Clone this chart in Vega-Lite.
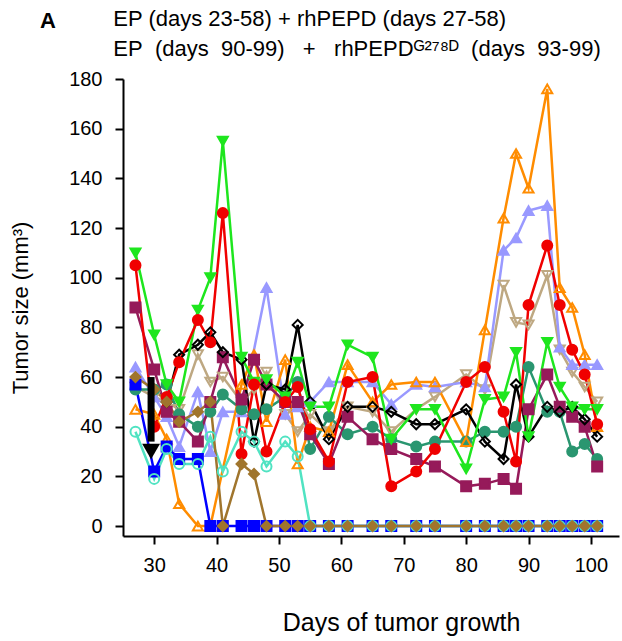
{
  "$schema": "https://vega.github.io/schema/vega-lite/v6.json",
  "width": 496,
  "height": 457,
  "autosize": {"type": "none"},
  "padding": {"left": 123, "top": 79, "right": 3, "bottom": 105},
  "background": "white",
  "config": {
    "font": "Liberation Sans",
    "view": {"stroke": null},
    "axis": {"domainColor": "black", "domainWidth": 2, "tickColor": "black", "tickWidth": 2, "tickSize": 8, "labelFontSize": 20, "labelColor": "black", "titleFontSize": 22, "titleFontWeight": "normal", "titleColor": "black", "grid": false, "labelFont": "Liberation Sans", "titleFont": "Liberation Sans"}
  },
  "title": {
    "text": "A",
    "subtitle": ["\u200b\u00a0\u00a0\u00a0\u00a0\u00a0\u00a0\u00a0\u00a0\u00a0\u00a0\u00a0\u00a0EP (days 23-58) + rhPEPD (days 27-58)", "\u200b\u00a0\u00a0\u00a0\u00a0\u00a0\u00a0\u00a0\u00a0\u00a0\u00a0\u00a0\u00a0EP\u00a0\u00a0(days\u00a0\u00a090-99)\u00a0\u00a0\u00a0+\u00a0\u00a0\u00a0rhPEPDᴳ²⁷⁸ᴰ\u00a0\u00a0(days\u00a0\u00a093-99)"],
    "anchor": "start", "frame": "group", "dx": -83, "offset": 6,
    "font": "Liberation Sans", "fontSize": 22, "fontWeight": "bold", "color": "black",
    "subtitleFont": "Liberation Sans", "subtitleFontSize": 22, "subtitleLineHeight": 30, "subtitlePadding": -24, "subtitleColor": "black"
  },
  "datasets": {
    "arrow": [{"d": 29.5, "top": 60, "base": 34, "tip": 30}],
    "pts": [
      {"s":"tan","d":27,"v":56},{"s":"tan","d":30,"v":52},{"s":"tan","d":32,"v":50},{"s":"tan","d":34,"v":47},{"s":"tan","d":37,"v":69},{"s":"tan","d":39,"v":58},{"s":"tan","d":41,"v":60},{"s":"tan","d":44,"v":50},{"s":"tan","d":46,"v":55},{"s":"tan","d":48,"v":62},{"s":"tan","d":51,"v":45},{"s":"tan","d":53,"v":38},{"s":"tan","d":55,"v":45},{"s":"tan","d":58,"v":38},{"s":"tan","d":61,"v":48},{"s":"tan","d":65,"v":46},{"s":"tan","d":68,"v":38},{"s":"tan","d":72,"v":47},{"s":"tan","d":75,"v":52},{"s":"tan","d":80,"v":61},{"s":"tan","d":83,"v":55},{"s":"tan","d":86,"v":97},{"s":"tan","d":88,"v":82},{"s":"tan","d":90,"v":81},{"s":"tan","d":93,"v":101},{"s":"tan","d":95,"v":71},{"s":"tan","d":97,"v":62},{"s":"tan","d":99,"v":56},{"s":"tan","d":101,"v":50},
      {"s":"lav","d":27,"v":64},{"s":"lav","d":30,"v":52},{"s":"lav","d":32,"v":44},{"s":"lav","d":34,"v":32},{"s":"lav","d":37,"v":54},{"s":"lav","d":39,"v":30},{"s":"lav","d":41,"v":46},{"s":"lav","d":44,"v":46},{"s":"lav","d":48,"v":96},{"s":"lav","d":51,"v":45},{"s":"lav","d":53,"v":48},{"s":"lav","d":55,"v":50},{"s":"lav","d":58,"v":58},{"s":"lav","d":61,"v":58},{"s":"lav","d":65,"v":58},{"s":"lav","d":68,"v":49},{"s":"lav","d":72,"v":57},{"s":"lav","d":75,"v":56},{"s":"lav","d":80,"v":58},{"s":"lav","d":83,"v":56},{"s":"lav","d":86,"v":111},{"s":"lav","d":88,"v":116},{"s":"lav","d":90,"v":127},{"s":"lav","d":93,"v":129},{"s":"lav","d":95,"v":72},{"s":"lav","d":97,"v":65},{"s":"lav","d":99,"v":65},{"s":"lav","d":101,"v":65},
      {"s":"teal","d":27,"v":55},{"s":"teal","d":30,"v":55},{"s":"teal","d":32,"v":57},{"s":"teal","d":34,"v":45},{"s":"teal","d":37,"v":40},{"s":"teal","d":39,"v":46},{"s":"teal","d":41,"v":53},{"s":"teal","d":44,"v":47},{"s":"teal","d":46,"v":45},{"s":"teal","d":48,"v":47},{"s":"teal","d":51,"v":52},{"s":"teal","d":53,"v":58},{"s":"teal","d":55,"v":31},{"s":"teal","d":58,"v":44},{"s":"teal","d":61,"v":37},{"s":"teal","d":65,"v":40},{"s":"teal","d":68,"v":35},{"s":"teal","d":72,"v":32},{"s":"teal","d":75,"v":34},{"s":"teal","d":80,"v":34},{"s":"teal","d":83,"v":38},{"s":"teal","d":86,"v":38},{"s":"teal","d":88,"v":40},{"s":"teal","d":90,"v":64},{"s":"teal","d":93,"v":46},{"s":"teal","d":95,"v":46},{"s":"teal","d":97,"v":30},{"s":"teal","d":99,"v":33},{"s":"teal","d":101,"v":27},
      {"s":"orange","d":27,"v":47},{"s":"orange","d":30,"v":45},{"s":"orange","d":32,"v":35},{"s":"orange","d":34,"v":9},{"s":"orange","d":37,"v":0},{"s":"orange","d":39,"v":0},{"s":"orange","d":44,"v":57},{"s":"orange","d":46,"v":69},{"s":"orange","d":48,"v":42},{"s":"orange","d":51,"v":67},{"s":"orange","d":53,"v":25},{"s":"orange","d":55,"v":40},{"s":"orange","d":58,"v":38},{"s":"orange","d":61,"v":65},{"s":"orange","d":65,"v":50},{"s":"orange","d":68,"v":57},{"s":"orange","d":72,"v":58},{"s":"orange","d":75,"v":58},{"s":"orange","d":80,"v":34},{"s":"orange","d":83,"v":79},{"s":"orange","d":86,"v":124},{"s":"orange","d":88,"v":150},{"s":"orange","d":90,"v":136},{"s":"orange","d":93,"v":176},{"s":"orange","d":95,"v":96},{"s":"orange","d":97,"v":88},{"s":"orange","d":99,"v":69},{"s":"orange","d":101,"v":40},
      {"s":"magenta","d":27,"v":88},{"s":"magenta","d":30,"v":63},{"s":"magenta","d":32,"v":46},{"s":"magenta","d":34,"v":42},{"s":"magenta","d":37,"v":34},{"s":"magenta","d":39,"v":50},{"s":"magenta","d":41,"v":68},{"s":"magenta","d":44,"v":51},{"s":"magenta","d":46,"v":67},{"s":"magenta","d":48,"v":57},{"s":"magenta","d":51,"v":50},{"s":"magenta","d":53,"v":50},{"s":"magenta","d":55,"v":37},{"s":"magenta","d":58,"v":25},{"s":"magenta","d":61,"v":44},{"s":"magenta","d":65,"v":35},{"s":"magenta","d":68,"v":31},{"s":"magenta","d":72,"v":27},{"s":"magenta","d":75,"v":24},{"s":"magenta","d":80,"v":16},{"s":"magenta","d":83,"v":17},{"s":"magenta","d":86,"v":19},{"s":"magenta","d":88,"v":15},{"s":"magenta","d":90,"v":47},{"s":"magenta","d":93,"v":61},{"s":"magenta","d":95,"v":48},{"s":"magenta","d":97,"v":44},{"s":"magenta","d":99,"v":40},{"s":"magenta","d":101,"v":24},
      {"s":"black","d":32,"v":50},{"s":"black","d":34,"v":69},{"s":"black","d":37,"v":73},{"s":"black","d":39,"v":78},{"s":"black","d":41,"v":70},{"s":"black","d":44,"v":67},{"s":"black","d":46,"v":34},{"s":"black","d":48,"v":57},{"s":"black","d":51,"v":55},{"s":"black","d":53,"v":81},{"s":"black","d":55,"v":50},{"s":"black","d":58,"v":35},{"s":"black","d":61,"v":48},{"s":"black","d":65,"v":48},{"s":"black","d":68,"v":46},{"s":"black","d":72,"v":41},{"s":"black","d":75,"v":41},{"s":"black","d":80,"v":47},{"s":"black","d":83,"v":34},{"s":"black","d":86,"v":27},{"s":"black","d":88,"v":57},{"s":"black","d":90,"v":36},{"s":"black","d":93,"v":48},{"s":"black","d":95,"v":46},{"s":"black","d":97,"v":48},{"s":"black","d":99,"v":43},{"s":"black","d":101,"v":36},
      {"s":"green","d":27,"v":110},{"s":"green","d":30,"v":77},{"s":"green","d":32,"v":57},{"s":"green","d":34,"v":50},{"s":"green","d":37,"v":87},{"s":"green","d":39,"v":100},{"s":"green","d":41,"v":155},{"s":"green","d":44,"v":68},{"s":"green","d":46,"v":58},{"s":"green","d":48,"v":59},{"s":"green","d":51,"v":52},{"s":"green","d":53,"v":66},{"s":"green","d":55,"v":48},{"s":"green","d":58,"v":48},{"s":"green","d":61,"v":73},{"s":"green","d":65,"v":68},{"s":"green","d":68,"v":35},{"s":"green","d":72,"v":47},{"s":"green","d":75,"v":47},{"s":"green","d":80,"v":23},{"s":"green","d":83,"v":51},{"s":"green","d":86,"v":52},{"s":"green","d":88,"v":70},{"s":"green","d":90,"v":36},{"s":"green","d":93,"v":74},{"s":"green","d":95,"v":56},{"s":"green","d":97,"v":48},{"s":"green","d":99,"v":47},{"s":"green","d":101,"v":47},
      {"s":"red","d":27,"v":105},{"s":"red","d":30,"v":40},{"s":"red","d":32,"v":52},{"s":"red","d":34,"v":66},{"s":"red","d":37,"v":83},{"s":"red","d":39,"v":74},{"s":"red","d":41,"v":126},{"s":"red","d":44,"v":29},{"s":"red","d":46,"v":57},{"s":"red","d":48,"v":30},{"s":"red","d":51,"v":50},{"s":"red","d":53,"v":56},{"s":"red","d":55,"v":39},{"s":"red","d":58,"v":26},{"s":"red","d":61,"v":58},{"s":"red","d":65,"v":60},{"s":"red","d":68,"v":16},{"s":"red","d":72,"v":22},{"s":"red","d":75,"v":31},{"s":"red","d":80,"v":58},{"s":"red","d":83,"v":64},{"s":"red","d":86,"v":46},{"s":"red","d":88,"v":26},{"s":"red","d":90,"v":89},{"s":"red","d":93,"v":113},{"s":"red","d":95,"v":89},{"s":"red","d":97,"v":71},{"s":"red","d":99,"v":61},{"s":"red","d":101,"v":41},
      {"s":"blue","d":27,"v":57},{"s":"blue","d":30,"v":22},{"s":"blue","d":32,"v":32},{"s":"blue","d":34,"v":27},{"s":"blue","d":37,"v":27},{"s":"blue","d":39,"v":0},{"s":"blue","d":41,"v":0},{"s":"blue","d":44,"v":0},{"s":"blue","d":46,"v":0},{"s":"blue","d":48,"v":0},{"s":"blue","d":51,"v":0},{"s":"blue","d":53,"v":0},{"s":"blue","d":55,"v":0},{"s":"blue","d":58,"v":0},{"s":"blue","d":61,"v":0},{"s":"blue","d":65,"v":0},{"s":"blue","d":68,"v":0},{"s":"blue","d":72,"v":0},{"s":"blue","d":75,"v":0},{"s":"blue","d":80,"v":0},{"s":"blue","d":83,"v":0},{"s":"blue","d":86,"v":0},{"s":"blue","d":88,"v":0},{"s":"blue","d":90,"v":0},{"s":"blue","d":93,"v":0},{"s":"blue","d":95,"v":0},{"s":"blue","d":97,"v":0},{"s":"blue","d":99,"v":0},{"s":"blue","d":101,"v":0},
      {"s":"aqua","d":27,"v":38},{"s":"aqua","d":30,"v":19},{"s":"aqua","d":32,"v":31},{"s":"aqua","d":34,"v":25},{"s":"aqua","d":37,"v":25},{"s":"aqua","d":39,"v":36},{"s":"aqua","d":41,"v":22},{"s":"aqua","d":44,"v":38},{"s":"aqua","d":46,"v":34},{"s":"aqua","d":48,"v":24},{"s":"aqua","d":51,"v":34},{"s":"aqua","d":53,"v":28},{"s":"aqua","d":55,"v":0},{"s":"aqua","d":58,"v":0},{"s":"aqua","d":61,"v":0},{"s":"aqua","d":65,"v":0},{"s":"aqua","d":68,"v":0},{"s":"aqua","d":72,"v":0},{"s":"aqua","d":75,"v":0},{"s":"aqua","d":80,"v":0},{"s":"aqua","d":83,"v":0},{"s":"aqua","d":86,"v":0},{"s":"aqua","d":88,"v":0},{"s":"aqua","d":90,"v":0},{"s":"aqua","d":93,"v":0},{"s":"aqua","d":95,"v":0},{"s":"aqua","d":97,"v":0},{"s":"aqua","d":99,"v":0},{"s":"aqua","d":101,"v":0},
      {"s":"brown","d":27,"v":60},{"s":"brown","d":30,"v":55},{"s":"brown","d":32,"v":50},{"s":"brown","d":34,"v":42},{"s":"brown","d":37,"v":46},{"s":"brown","d":39,"v":50},{"s":"brown","d":41,"v":0},{"s":"brown","d":44,"v":25},{"s":"brown","d":46,"v":21},{"s":"brown","d":48,"v":0},{"s":"brown","d":51,"v":0},{"s":"brown","d":53,"v":0},{"s":"brown","d":55,"v":0},{"s":"brown","d":58,"v":0},{"s":"brown","d":61,"v":0},{"s":"brown","d":65,"v":0},{"s":"brown","d":68,"v":0},{"s":"brown","d":72,"v":0},{"s":"brown","d":75,"v":0},{"s":"brown","d":80,"v":0},{"s":"brown","d":83,"v":0},{"s":"brown","d":86,"v":0},{"s":"brown","d":88,"v":0},{"s":"brown","d":90,"v":0},{"s":"brown","d":93,"v":0},{"s":"brown","d":95,"v":0},{"s":"brown","d":97,"v":0},{"s":"brown","d":99,"v":0},{"s":"brown","d":101,"v":0}
    ]
  },
  "layer": [
    {
      "data": {"name": "pts"},
      "mark": {"type": "line", "strokeWidth": 2.5},
      "encoding": {
        "x": {"field": "d", "type": "quantitative", "scale": {"domain": [25, 104.5], "nice": false, "zero": false},
              "axis": {"values": [30,35,40,45,50,55,60,65,70,75,80,85,90,95,100], "labelExpr": "datum.value % 10 === 0 ? datum.label : ''", "title": "Days of tumor growth", "titleFontSize": 25, "labelPadding": 11, "titlePadding": 35, "titleX": 278}},
        "y": {"field": "v", "type": "quantitative", "scale": {"domain": [-4, 180], "nice": false, "zero": false},
              "axis": {"values": [0,20,40,60,80,100,120,140,160,180], "title": "Tumor size (mm³)", "labelPadding": 13, "titlePadding": 36}},
        "color": {"field": "s", "type": "nominal", "legend": null,
                  "scale": {"domain": ["tan","lav","teal","orange","magenta","black","green","red","blue","aqua","brown"],
                            "range": ["#bea882","#9999ff","#2a9670","#ff8c00","#961a5a","#000000","#1ee61e","#f00000","#0000ff","#50e3c2","#a0752d"]}}
      }
    },
    {
      "data": {"name": "pts"},
      "mark": {"type": "point", "size": 100, "strokeWidth": 2, "opacity": 1},
      "encoding": {
        "x": {"field": "d", "type": "quantitative"},
        "y": {"field": "v", "type": "quantitative"},
        "shape": {"field": "s", "type": "nominal", "legend": null,
                  "scale": {"domain": ["tan","lav","teal","orange","magenta","black","green","red","blue","aqua","brown"],
                            "range": ["triangle-down","triangle-up","circle","triangle-up","square","diamond","triangle-down","circle","square","circle","diamond"]}},
        "stroke": {"field": "s", "type": "nominal", "legend": null,
                  "scale": {"domain": ["tan","lav","teal","orange","magenta","black","green","red","blue","aqua","brown"],
                            "range": ["#bea882","#9999ff","#2a9670","#ff8c00","#961a5a","#000000","#1ee61e","#f00000","#0000ff","#50e3c2","#a0752d"]}},
        "fill": {"field": "s", "type": "nominal", "legend": null,
                  "scale": {"domain": ["tan","lav","teal","orange","magenta","black","green","red","blue","aqua","brown"],
                            "range": ["transparent","#9999ff","#2a9670","transparent","#961a5a","transparent","#1ee61e","#f00000","#0000ff","transparent","#a0752d"]}}
      }
    },
    {
      "data": {"name": "arrow"},
      "mark": {"type": "rule", "strokeWidth": 7, "color": "black"},
      "encoding": {
        "x": {"field": "d", "type": "quantitative"},
        "y": {"field": "top", "type": "quantitative"},
        "y2": {"field": "base"}
      }
    },
    {
      "data": {"name": "arrow"},
      "mark": {"type": "point", "shape": "triangle-down", "size": 320, "filled": true, "color": "black", "opacity": 1},
      "encoding": {
        "x": {"field": "d", "type": "quantitative"},
        "y": {"field": "tip", "type": "quantitative"}
      }
    }
  ]
}
